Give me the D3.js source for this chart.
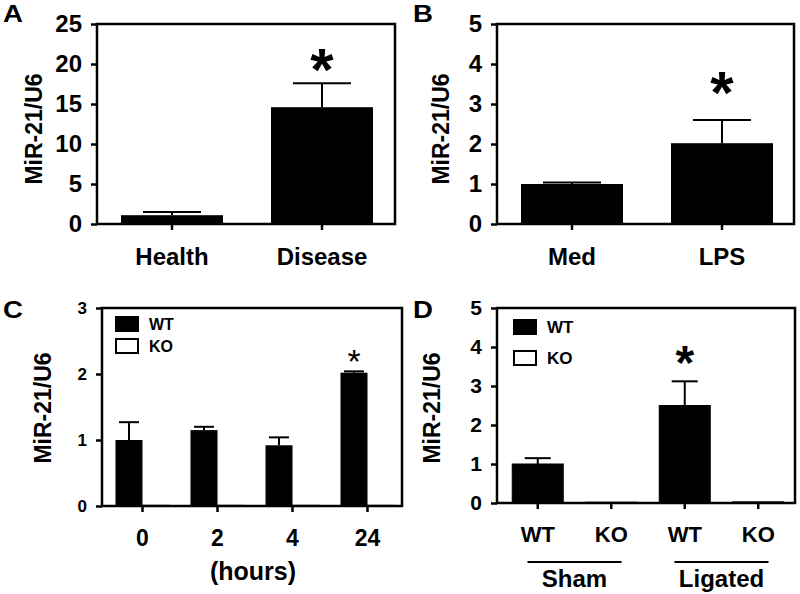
<!DOCTYPE html>
<html>
<head>
<meta charset="utf-8">
<script src="https://cdn.jsdelivr.net/npm/d3@7"></script>
<style>
body { margin: 0; background: #fff; }
svg { display: block; font-family: "Liberation Sans", Arial, sans-serif; font-weight: bold; }
</style>
</head>
<body>
<svg id="fig" width="800" height="594"></svg>
<script>
// A: patients
const catsA = ["Health", "Disease"];
const meanA = [1.1, 14.6];
const semA = [0.4, 3.0];
const ticksA = [0, 5, 10, 15, 20, 25];

// B: LPS stimulation
const catsB = ["Med", "LPS"];
const meanB = [1.0, 2.02];
const semB = [0.04, 0.58];
const ticksB = [0, 1, 2, 3, 4, 5];

// C: time course, WT vs KO
const hoursC = ["0", "2", "4", "24"];
const genotypes = ["WT", "KO"];
const wtC = [1.0, 1.15, 0.92, 2.02];
const wtSemC = [0.27, 0.05, 0.12, 0.02];
const koC = [0.01, 0.01, 0.01, 0.01];
const ticksC = [0, 1, 2, 3];

// D: sham vs ligated
const groupsD = ["Sham", "Ligated"];
const wtD = [1.0, 2.5];
const wtSemD = [0.15, 0.62];
const koD = [0.02, 0.03];
const ticksD = [0, 1, 2, 3, 4, 5];

const svg = d3.select("#fig");
svg.append("rect").attr("width", 800).attr("height", 594).attr("fill", "#fff");

function axes(g, x0, x1, y, ticks, tickFs) {
    const [yb, yt] = y.range();
    g.append("g")
        .attr("transform", `translate(${x0},0)`)
        .call(d3.axisLeft(y).tickValues(ticks).tickFormat(d3.format("d")).tickSize(6).tickPadding(9).tickSizeOuter(0))
        .call(a => a.select(".domain").remove())
        .call(a => a.selectAll("line").attr("stroke", "#000").attr("stroke-width", 2.5))
        .call(a => a.selectAll("text").attr("font-size", tickFs).attr("fill", "#000"));
    g.append("rect")
        .attr("x", x0).attr("y", yt)
        .attr("width", x1 - x0).attr("height", yb - yt)
        .attr("fill", "none").attr("stroke", "#000").attr("stroke-width", 2.5);
}

function ylabel(g, x, y) {
    g.append("text")
        .attr("transform", `translate(${x},${y}) rotate(-90)`)
        .attr("text-anchor", "middle").attr("dy", "0.35em")
        .attr("font-size", 23)
        .text("MiR-21/U6");
}

function letter(g, x, y, t) {
    g.append("text").attr("transform", `translate(${x},${y}) scale(1.15,1)`).attr("font-size", 24).text(t);
}

function errbar(g, cx, yTop, yBar, cap) {
    g.append("line").attr("x1", cx).attr("x2", cx).attr("y1", yBar).attr("y2", yTop)
        .attr("stroke", "#000").attr("stroke-width", 2);
    g.append("line").attr("x1", cx - cap / 2).attr("x2", cx + cap / 2).attr("y1", yTop).attr("y2", yTop)
        .attr("stroke", "#000").attr("stroke-width", 2);
}

function star(g, cx, cy, fs, bold) {
    g.append("text").attr("x", cx).attr("y", cy + fs * 0.48)
        .attr("text-anchor", "middle").attr("font-size", fs)
        .attr("font-weight", bold ? "bold" : "normal")
        .text("*");
}

function xaxis(g, x, y0, fs, pad) {
    g.append("g")
        .attr("transform", `translate(0,${y0})`)
        .call(d3.axisBottom(x).tickSize(6).tickPadding(pad).tickSizeOuter(0))
        .call(a => a.select(".domain").remove())
        .call(a => a.selectAll("line").attr("stroke", "#000").attr("stroke-width", 2.5))
        .call(a => a.selectAll("text").attr("font-size", fs).attr("fill", "#000"));
}

// simple two-bar panel (A and B)
function twoBar(cats, mean, sem, ticks, box, starAt, starCy) {
    const g = svg.append("g");
    const x = d3.scaleBand().domain(cats).range([box.x0, box.x0 + 300]).paddingInner(0.32).paddingOuter(0.16);
    const y = d3.scaleLinear().domain([0, d3.max(ticks)]).range([box.yb, box.yt]);
    g.selectAll("rect.bar").data(cats).join("rect")
        .attr("class", "bar")
        .attr("x", d => x(d)).attr("width", x.bandwidth())
        .attr("y", (d, i) => y(mean[i])).attr("height", (d, i) => y(0) - y(mean[i]))
        .attr("fill", "#000");
    cats.forEach((c, i) => errbar(g, x(c) + x.bandwidth() / 2, y(mean[i] + sem[i]), y(mean[i]), 58));
    axes(g, box.x0, box.x1, y, ticks, 24);
    xaxis(g, x, box.yb, 24, 18);
    star(g, x(cats[starAt]) + x.bandwidth() / 2, starCy, 60, true);
    return g;
}

const gA = twoBar(catsA, meanA, semA, ticksA, {x0: 97, x1: 395, yt: 24, yb: 224}, 1, 61);
ylabel(gA, 34, 129);
letter(gA, 3, 22, "A");

const gB = twoBar(catsB, meanB, semB, ticksB, {x0: 497, x1: 794, yt: 24, yb: 224}, 1, 84);
ylabel(gB, 441, 129);
letter(gB, 413, 22, "B");

function legend(g, x, y, gap, fs) {
    genotypes.forEach((k, i) => {
        g.append("rect").attr("x", x).attr("y", y + i * gap).attr("width", 22).attr("height", 14)
            .attr("fill", k === "WT" ? "#000" : "#fff").attr("stroke", "#000").attr("stroke-width", 2);
        g.append("text").attr("x", x + 33).attr("y", y + i * gap + 13).attr("font-size", fs).text(k);
    });
}

// C
{
    const g = svg.append("g");
    const x = d3.scaleBand().domain(hoursC).range([105, 405]);
    const sub = d3.scaleBand().domain(genotypes).range([-27, 27]);
    const y = d3.scaleLinear().domain([0, 3]).range([506, 308]);
    const cx = h => x(h) + x.bandwidth() / 2;
    g.selectAll("rect.wt").data(hoursC).join("rect")
        .attr("x", d => cx(d) + sub("WT")).attr("width", sub.bandwidth())
        .attr("y", (d, i) => y(wtC[i])).attr("height", (d, i) => y(0) - y(wtC[i]))
        .attr("fill", "#000");
    g.selectAll("rect.ko").data(hoursC).join("rect")
        .attr("x", d => cx(d) + sub("KO")).attr("width", sub.bandwidth())
        .attr("y", (d, i) => y(koC[i])).attr("height", (d, i) => y(0) - y(koC[i]))
        .attr("fill", "#fff").attr("stroke", "#000").attr("stroke-width", 1);
    hoursC.forEach((h, i) => errbar(g, cx(h) + sub("WT") + sub.bandwidth() / 2, y(wtC[i] + wtSemC[i]), y(wtC[i]), 20));
    axes(g, 102, 402, y, ticksC, 17);
    xaxis(g, x, 506, 23, 18);
    g.append("text").attr("x", 253).attr("y", 580).attr("text-anchor", "middle").attr("font-size", 25).text("(hours)");
    legend(g, 116, 317, 22, 16);
    star(g, cx("24") + sub("WT") + sub.bandwidth() / 2, 357, 34, false);
    ylabel(g, 43, 408);
    letter(g, 3, 318, "C");
}

// D
{
    const g = svg.append("g");
    const keys = groupsD.flatMap(grp => genotypes.map(k => grp + "|" + k));
    const vals = groupsD.flatMap((grp, i) => [wtD[i], koD[i]]);
    const sems = groupsD.flatMap((grp, i) => [wtSemD[i], 0]);
    const x = d3.scaleBand().domain(keys).range([501, 795]).paddingInner(0.306).paddingOuter(0.153);
    const xg = d3.scaleBand().domain(groupsD).range([501, 795]);
    const y = d3.scaleLinear().domain([0, 5]).range([503, 308]);
    g.selectAll("rect.bar").data(keys).join("rect")
        .attr("x", d => x(d)).attr("width", x.bandwidth())
        .attr("y", (d, i) => y(vals[i])).attr("height", (d, i) => y(0) - y(vals[i]))
        .attr("fill", d => d.endsWith("WT") ? "#000" : "#fff")
        .attr("stroke", "#000").attr("stroke-width", 1);
    keys.forEach((k, i) => { if (sems[i] > 0) errbar(g, x(k) + x.bandwidth() / 2, y(vals[i] + sems[i]), y(vals[i]), 26); });
    axes(g, 497, 795, y, ticksD, 21);
    g.append("g")
        .attr("transform", "translate(0,503)")
        .call(d3.axisBottom(x).tickSize(6).tickPadding(17).tickSizeOuter(0).tickFormat(k => k.split("|")[1]))
        .call(a => a.select(".domain").remove())
        .call(a => a.selectAll("line").attr("stroke", "#000").attr("stroke-width", 2.5))
        .call(a => a.selectAll("text").attr("font-size", 22).attr("fill", "#000"));
    groupsD.forEach(grp => {
        const c = xg(grp) + xg.bandwidth() / 2;
        g.append("line").attr("x1", c - 47).attr("x2", c + 47).attr("y1", 562).attr("y2", 562)
            .attr("stroke", "#000").attr("stroke-width", 2);
        g.append("text").attr("x", c).attr("y", 587).attr("text-anchor", "middle").attr("font-size", 24).text(grp);
    });
    legend(g, 514, 320, 31, 17);
    star(g, x("Ligated|WT") + x.bandwidth() / 2, 356, 48, true);
    ylabel(g, 432, 408);
    letter(g, 413, 318, "D");
}
</script>
</body>
</html>
